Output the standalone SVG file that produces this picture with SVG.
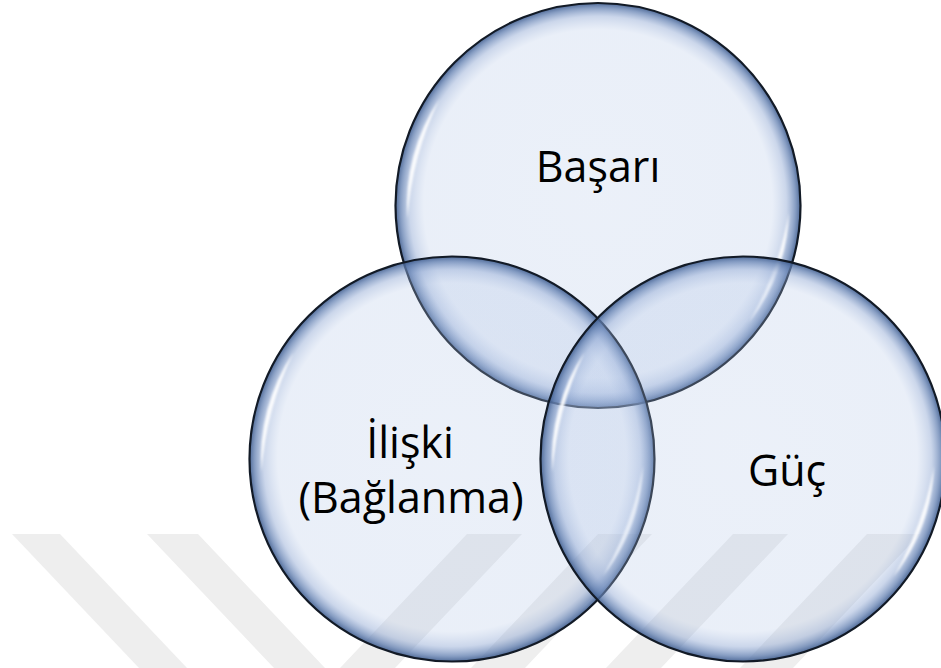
<svg xmlns="http://www.w3.org/2000/svg" xmlns:xlink="http://www.w3.org/1999/xlink" width="941" height="668" viewBox="0 0 941 668">
  <style>
    .lbl { font-family: "Open Sans", "Noto Sans", "Liberation Sans", sans-serif; font-size: 43px; fill: #000000; text-anchor: middle; }
    .stripe { fill: #eeeeee; }
    .rim { fill: none; stroke: #121a26; stroke-width: 2.2; }
    .hl { fill: #ffffff; opacity: 0.9; }
  </style>
  <defs>
    <radialGradient id="bubbleFill" cx="0.5" cy="0.5" r="0.5" fx="0.5" fy="0.47">
      <stop offset="0" stop-color="#b0c4e6" stop-opacity="0.25"/>
      <stop offset="0.86" stop-color="#b0c4e6" stop-opacity="0.27"/>
      <stop offset="0.93" stop-color="#8ca5d2" stop-opacity="0.45"/>
      <stop offset="0.975" stop-color="#5f7daf" stop-opacity="0.75"/>
      <stop offset="1" stop-color="#3c5a8c" stop-opacity="0.9"/>
    </radialGradient>
    <filter id="soft" x="-20%" y="-20%" width="140%" height="140%">
      <feGaussianBlur stdDeviation="1.2"/>
    </filter>
    <g id="bubble">
      <circle cx="0" cy="0" r="202.5" fill="url(#bubbleFill)"/>
      <path class="hl" filter="url(#soft)" d="M -190.54 13.32 A 191 191 0 0 1 -158.35 -106.81 A 330 330 0 0 0 -190.54 13.32 Z"/>
      <path class="hl" filter="url(#soft)" d="M 190.88 6.67 A 191 191 0 0 1 150.51 117.59 A 330 330 0 0 0 190.88 6.67 Z"/>
      <circle class="rim" cx="0" cy="0" r="202.5"/>
    </g>
  </defs>

  <rect x="0" y="0" width="941" height="668" fill="#ffffff"/>

  <g id="watermark">
    <polygon class="stripe" points="12,534 60,534 187,668 139,668"/>
    <polygon class="stripe" points="147,534 198,534 325,668 274,668"/>
    <polygon class="stripe" points="467,534 522,534 395,668 340,668"/>
    <polygon class="stripe" points="598,534 652,534 525,668 471,668"/>
    <polygon class="stripe" points="733,534 788,534 661,668 606,668"/>
    <polygon class="stripe" points="867,534 920,534 793,668 740,668"/>
  </g>

  <g id="connectors"/>

  <g id="node-basari">
    <use xlink:href="#bubble" href="#bubble" x="598" y="205.5"/>
    <text class="lbl" x="598" y="182">Başarı</text>
  </g>

  <g id="node-iliski">
    <use xlink:href="#bubble" href="#bubble" x="452" y="459"/>
    <text class="lbl" x="410" y="458">İlişki</text>
    <text class="lbl" x="411" y="513">(Bağlanma)</text>
  </g>

  <g id="node-guc">
    <use xlink:href="#bubble" href="#bubble" x="743" y="459"/>
    <text class="lbl" x="787" y="486">Güç</text>
  </g>
</svg>
